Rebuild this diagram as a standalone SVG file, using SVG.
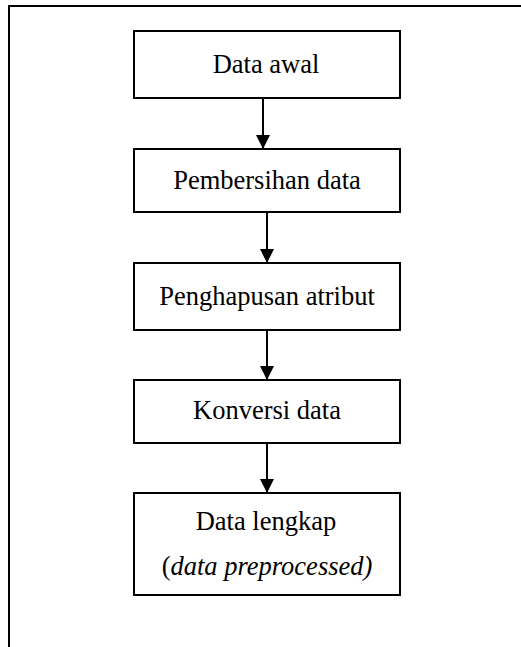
<svg xmlns="http://www.w3.org/2000/svg" width="521" height="647" viewBox="0 0 521 647">
<style>
.box{fill:#fff;stroke:#000;stroke-width:2}
.t{font-family:"Liberation Serif","Times New Roman",serif;font-size:26.5px;fill:#000;text-anchor:middle}
.i{font-style:italic}
.c{stroke:#000;stroke-width:2;fill:none}
</style>
<defs>
<marker id="ah" viewBox="0 0 14 16" refX="14" refY="8" markerWidth="14" markerHeight="16" markerUnits="userSpaceOnUse" orient="auto">
<path d="M0,1 L14,8 L0,15 Z" fill="#000"/>
</marker>
</defs>
<rect width="521" height="647" fill="#fff"/>
<path d="M9,647 L9,6 L521,6" fill="none" stroke="#000" stroke-width="2"/>
<g id="connectors">
<line class="c" x1="263" y1="98" x2="263" y2="149" marker-end="url(#ah)"/>
<line class="c" x1="267" y1="212" x2="267" y2="263" marker-end="url(#ah)"/>
<line class="c" x1="267" y1="330" x2="267" y2="380" marker-end="url(#ah)"/>
<line class="c" x1="267" y1="443" x2="267" y2="493" marker-end="url(#ah)"/>
</g>
<g id="n1"><rect class="box" x="134" y="31" width="266" height="67"/><text class="t" x="266" y="73">Data awal</text></g>
<g id="n2"><rect class="box" x="134" y="149" width="266" height="63"/><text class="t" x="267" y="189">Pembersihan data</text></g>
<g id="n3"><rect class="box" x="134" y="263" width="266" height="67"/><text class="t" x="267" y="305">Penghapusan atribut</text></g>
<g id="n4"><rect class="box" x="134" y="380" width="266" height="63"/><text class="t" x="267" y="419">Konversi data</text></g>
<g id="n5"><rect class="box" x="134" y="493" width="266" height="102"/><text class="t" x="266" y="530">Data lengkap</text><text class="t" x="267" y="575">(<tspan class="i">data preprocessed)</tspan></text></g>
</svg>
